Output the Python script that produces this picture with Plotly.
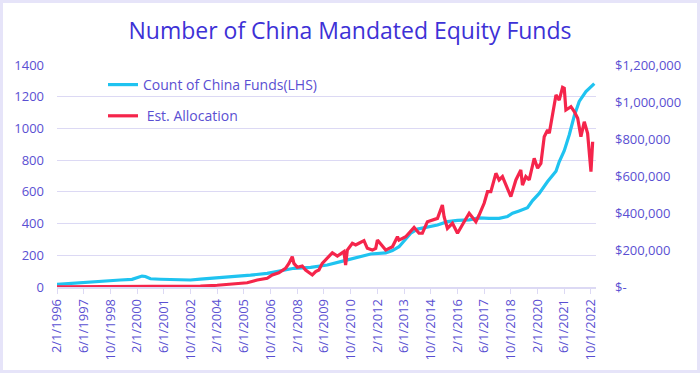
import plotly.graph_objects as go

# ---- data ----
count_dates = [
    "1996-02-01", "1997-06-01", "1998-06-01", "1999-04-01", "1999-11-01",
    "2000-02-01", "2000-05-01", "2000-07-01", "2000-10-01", "2001-04-01",
    "2002-10-01", "2003-04-01", "2004-02-01", "2004-08-01", "2005-10-01",
    "2006-08-01", "2007-02-01", "2007-12-01", "2008-10-01", "2009-08-01",
    "2010-04-01", "2011-02-01", "2011-10-01", "2012-07-01", "2012-11-01",
    "2013-03-01", "2013-07-01", "2013-10-01", "2014-02-01", "2014-08-01",
    "2015-02-01", "2015-08-01", "2016-02-01", "2016-09-01", "2017-03-01",
    "2017-09-01", "2018-03-01", "2018-08-01", "2018-11-01", "2019-03-01",
    "2019-08-01", "2019-11-01", "2020-03-01", "2020-08-01", "2020-11-01",
    "2021-01-01", "2021-03-01", "2021-06-01", "2021-09-01", "2021-12-01",
    "2022-03-01", "2022-07-01", "2022-12-01",
]
count_values = [
    17, 30, 40, 44, 48,
    60, 69, 66, 52, 49,
    44, 50, 57, 66, 75,
    86, 97, 118, 124, 139,
    160, 187, 208, 215, 230,
    254, 300, 339, 365, 376,
    391, 412, 420, 423, 436,
    433, 433, 445, 465, 480,
    500, 545, 590, 665, 700,
    730, 790, 860, 960, 1080,
    1170, 1232, 1282,
]

alloc_dates = [
    "1996-02-01", "2000-02-01", "2002-01-01", "2003-04-01", "2004-02-01",
    "2004-12-01", "2005-08-01", "2006-02-01", "2006-08-01", "2006-11-01",
    "2007-03-01", "2007-07-01", "2007-09-01", "2007-11-01", "2007-12-01",
    "2008-02-01", "2008-05-01", "2008-07-01", "2008-11-01", "2009-01-01",
    "2009-03-01", "2009-05-01", "2009-08-01", "2009-11-01", "2010-02-01",
    "2010-04-01", "2010-06-01", "2010-07-01", "2010-08-01", "2010-11-01",
    "2011-01-01", "2011-03-01", "2011-06-01", "2011-08-01", "2011-11-01",
    "2012-01-01", "2012-02-01", "2012-07-01", "2012-11-01", "2013-02-01",
    "2013-03-01", "2013-07-01", "2013-12-01", "2014-03-01", "2014-05-01",
    "2014-08-01", "2014-11-01", "2015-02-01", "2015-05-01", "2015-06-01",
    "2015-08-01", "2015-11-01", "2016-02-01", "2016-04-01", "2016-06-01",
    "2016-09-01", "2017-01-01", "2017-03-01", "2017-06-01", "2017-08-01",
    "2017-10-01", "2018-01-01", "2018-03-01", "2018-05-01", "2018-08-01",
    "2018-10-01", "2019-01-01", "2019-04-01", "2019-05-01", "2019-07-01",
    "2019-09-01", "2019-12-01", "2020-02-01", "2020-04-01", "2020-06-01",
    "2020-08-01", "2020-09-01", "2020-12-01", "2021-01-01", "2021-03-01",
    "2021-05-01", "2021-06-01", "2021-07-01", "2021-10-01", "2021-12-01",
    "2022-02-01", "2022-04-01", "2022-06-01", "2022-08-01", "2022-10-01",
    "2022-11-01",
]
alloc_values = [
    900, 1700, 2600, 4300, 9400,
    16300, 23100, 37700, 47100, 65100,
    77100, 101100, 127700, 163700, 127700,
    106300, 113100, 91700, 65100, 83100,
    91700, 127700, 155100, 185100, 167100,
    178300, 191100, 119100, 199700, 236600,
    227100, 236600, 250300, 209100, 199700,
    209100, 253700, 199700, 217700, 271700,
    253700, 271700, 322300, 290600, 290600,
    353100, 362600, 371100, 443100, 379700,
    317100, 344600, 290600, 325700, 353100,
    398600, 353100, 389100, 452600, 515100,
    515100, 614600, 578600, 596600, 533100,
    488600, 578600, 632600, 551100, 596600,
    578600, 696000, 642000, 668600, 812600,
    848600, 830600, 992600, 1038000, 1010600,
    1079100, 1074000, 956600, 974600, 948000,
    912000, 812600, 893100, 830600, 623100,
    785100,
]

x_tick_dates = [
    "1996-02-01", "1997-06-01", "1998-10-01", "2000-02-01", "2001-06-01",
    "2002-10-01", "2004-02-01", "2005-06-01", "2006-10-01", "2008-02-01",
    "2009-06-01", "2010-10-01", "2012-02-01", "2013-06-01", "2014-10-01",
    "2016-02-01", "2017-06-01", "2018-10-01", "2020-02-01", "2021-06-01",
    "2022-10-01",
]
x_tick_labels = [
    "2/1/1996", "6/1/1997", "10/1/1998", "2/1/2000", "6/1/2001",
    "10/1/2002", "2/1/2004", "6/1/2005", "10/1/2006", "2/1/2008",
    "6/1/2009", "10/1/2010", "2/1/2012", "6/1/2013", "10/1/2014",
    "2/1/2016", "6/1/2017", "10/1/2018", "2/1/2020", "6/1/2021",
    "10/1/2022",
]
left_ticks = [0, 200, 400, 600, 800, 1000, 1200, 1400]
right_ticks = [0, 200000, 400000, 600000, 800000, 1000000, 1200000]
right_labels = ["$-", "$200,000", "$400,000", "$600,000", "$800,000",
                "$1,000,000", "$1,200,000"]

# ---- style ----
FONT = "Open Sans"
TXT = "#5a4fd2"
TITLE_C = "#3d31d6"
GRID = "#dcd9f4"
BLUE = "#1fc3f0"
RED = "#f5254b"

fig = go.Figure()
fig.add_trace(go.Scatter(
    x=count_dates, y=count_values, mode="lines",
    name="Count of China Funds(LHS)", legendgroup="a",
    line=dict(color=BLUE, width=3.2), yaxis="y",
))
fig.add_trace(go.Scatter(
    x=alloc_dates, y=alloc_values, mode="lines",
    name=" Est. Allocation", legendgroup="b",
    line=dict(color=RED, width=3.2), yaxis="y2",
))

W, H = 700, 373
L, R, T, B = 57, 104, 65, 86
pw, ph = W - L - R, H - T - B

fig.update_layout(
    width=W, height=H,
    margin=dict(l=L, r=R, t=T, b=B, autoexpand=False),
    paper_bgcolor="white", plot_bgcolor="white",
    font=dict(family=FONT, color=TXT, size=13),
    title=dict(text="Number of China Mandated Equity Funds",
               x=0.5, xref="container", xanchor="center",
               y=1 - 31 / H, yref="container", yanchor="middle",
               font=dict(family=FONT, size=23, color=TITLE_C)),
    showlegend=True,
    legend=dict(x=(103 - L) / pw, y=1 - (69 - T) / ph,
                xanchor="left", yanchor="top",
                bgcolor="rgba(0,0,0,0)", borderwidth=0,
                font=dict(family=FONT, size=14, color=TXT),
                tracegroupgap=10, itemwidth=30),
    xaxis=dict(type="date", range=["1996-02-01", "2023-01-01"],
               tickmode="array", tickvals=x_tick_dates, ticktext=x_tick_labels,
               tickangle=-90, tickfont=dict(size=13, color=TXT),
               showgrid=False, zeroline=False,
               showline=True, linecolor=GRID, linewidth=1.5,
               ticks="outside", ticklen=5, tickcolor=GRID, tickwidth=1,
               fixedrange=True),
    yaxis=dict(range=[0, 1400], tickmode="array", tickvals=left_ticks,
               tickfont=dict(size=13, color=TXT),
               showgrid=True, gridcolor=GRID, gridwidth=1.3,
               zeroline=False, showline=False, ticks="",
               ticklabelstandoff=12),
    yaxis2=dict(range=[0, 1200000], overlaying="y", side="right",
                tickmode="array", tickvals=right_ticks, ticktext=right_labels,
                tickfont=dict(size=13, color=TXT),
                showgrid=False, zeroline=False, showline=False, ticks="",
                ticklabelstandoff=18),
)

# light lavender frame around the whole picture
fig.add_shape(type="rect", xref="paper", yref="paper",
              x0=(1.5 - L) / pw, x1=(W - 1.5 - L) / pw,
              y0=-(B - 1.5) / ph, y1=1 + (T - 1.5) / ph,
              line=dict(color="#e6e4f9", width=3), layer="below")

fig.write_html("out.html",
               config={"displayModeBar": False},
               post_script="document.body.style.margin='0';"
                           "document.body.style.padding='0';")
